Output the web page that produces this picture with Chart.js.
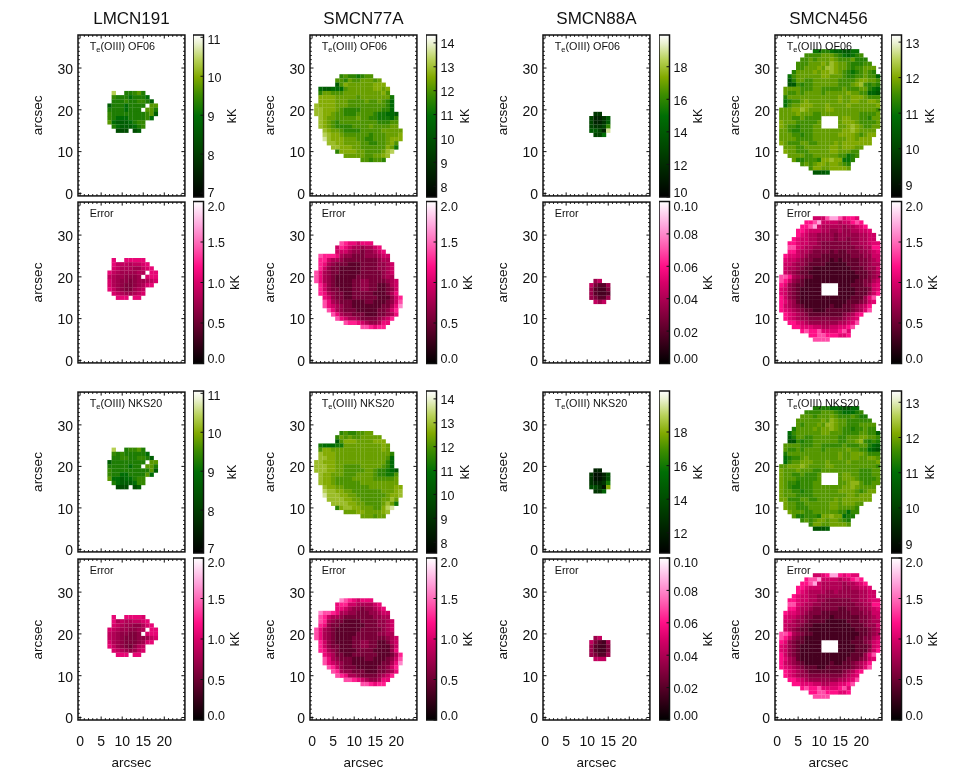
<!DOCTYPE html>
<html>
<head>
<meta charset="utf-8">
<title>Te(OIII) maps</title>
<script src="https://cdn.jsdelivr.net/npm/chart.js@4"></script>
<style>
  body { margin: 0; background: #fff; }
  #page { position: relative; width: 969px; height: 775px; overflow: hidden; }
  canvas { position: absolute; }
</style>
</head>
<body>
<div id="page"></div>
<script>
// axis labels
const xTicks = ["0", "5", "10", "15", "20"];
const yTicks = ["0", "10", "20", "30"];
const objects = ["LMCN191", "SMCN77A", "SMCN88A", "SMCN456"];
const captions = ["OF06", "Error", "NKS20", "Error"];

// colour bar tick labels
const lmcBarTicks = ["7", "8", "9", "10", "11"];
const n77BarTicks = ["8", "9", "10", "11", "12", "13", "14"];
const n88BarTicks = ["10", "12", "14", "16", "18"];
const n88BarTicksNks = ["12", "14", "16", "18"];
const n456BarTicks = ["9", "10", "11", "12", "13"];
const errBarTicks = ["0.0", "0.5", "1.0", "1.5", "2.0"];
const n88ErrBarTicks = ["0.00", "0.02", "0.04", "0.06", "0.08", "0.10"];

// colour bar ranges in kK
const lmcRange = [6.9, 11.06];
const n77Range = [7.55, 14.33];
const n88Range = [10, 19.95];
const n88RangeNks = [10.8, 20.44];
const n456Range = [8.64, 13.2];
const n456RangeNks = [8.72, 13.32];
const errRange = [0, 2];
const n88ErrRange = [0, 0.1];

// what each digit in a map row stands for, in kK
const lmcLevels = [8.3, 8.65, 8.95, 9.25, 9.45, 9.7, 9.95, 10.15, 10.4, 10.7];
const lmcErrLevels = [0.5, 0.58, 0.66, 0.74, 0.82, 0.9, 1.0, 1.08, 1.15, 1.25];
const n77Levels = [10.3, 10.8, 11.2, 11.6, 12.0, 12.3, 12.6, 12.9, 13.3, 13.7];
const n88Levels = [10.5, 11.5, 12.3, 13, 14, 15, 16, 17, 18, 19];
const n88ErrLevels = [0.012, 0.016, 0.02, 0.028, 0.036, 0.045, 0.055, 0.065, 0.075, 0.09];
const n456Levels = [10, 10.4, 10.7, 11, 11.3, 11.55, 11.8, 12.0, 12.25, 12.6];
const n77ErrLevels = [0.42, 0.55, 0.68, 0.8, 0.95, 1.1, 1.25, 1.4, 1.6, 1.85];
const n456ErrLevels = [0.32, 0.45, 0.58, 0.7, 0.82, 0.95, 1.05, 1.2, 1.4, 1.7];

// y of the first row of each object's map
const lmcTop = 24, n77Top = 28, n88Top = 19, n456Top = 34;

// maps, one string per row, one character per arcsec, "." is no data
const lmcOf06 = [
  "........8..33453",
  "........433323332",
  "........3334334431",
  ".......133323333.55",
  ".......33332333.553",
  ".......433333333451",
  ".......43222333342",
  ".......521112344",
  "........32111234",
  ".........000.01"
];
const lmcOf06Err = [
  "........7..77777",
  "........755545567",
  "........6544433567",
  ".......754333344.77",
  ".......54332223.677",
  ".......643221233456",
  ".......64321123467",
  ".......753211345",
  "........65433456",
  ".........777.77"
];
const lmcNks = [
  "........8..34453",
  "........434333332",
  "........3344334431",
  ".......133333333.55",
  ".......33333233.553",
  ".......433333333351",
  ".......43322333352",
  ".......522122344",
  "........32111244",
  ".........000.01"
];
const lmcNksErr = [
  "........7..77776",
  "........745445567",
  "........6543322467",
  ".......654332234.77",
  ".......54322112.677",
  ".......543211122356",
  ".......64321112367",
  ".......753210245",
  "........65432356",
  ".........777.77"
];

const n77Of06 = [
  ".......34332344",
  "......44354455545",
  "......046555555666",
  "..10011145555556656",
  "..35544455555555564",
  "..666655555455555552",
  "..666655544445445431",
  ".7666655544444444431",
  ".7766654333344444331",
  ".77665443334444322110",
  "..7655444445443322213",
  "..7654344444444433344",
  "..7654333344445444455",
  "...7655433334444455555",
  "...8766544444434445556",
  "...9766655544334445666",
  "....77665555443344564",
  ".....7766655444444652",
  "......36666554444578",
  "........55555445567",
  "............443443"
];
const n77Of06Err = [
  ".......76554555",
  "......46543323345",
  "......444322122345",
  "..76665322111222344",
  "..66433211111111233",
  "..653211100011112234",
  "..642110000011112234",
  ".7532110000011111234",
  ".7532100000111111233",
  ".75321000011221111234",
  "..6421000011221100134",
  "..6421100011221100124",
  "..6532110011111000135",
  "...5421100111111000246",
  "...7532111000110001247",
  "...7543211000000011358",
  "....75321110000011246",
  ".....7532211100011235",
  "......75433211112346",
  "........76654322355",
  "............776566"
];
const n77Nks = [
  ".......34334455",
  "......35454455555",
  "......046665555666",
  "..21112255555555565",
  "..46655555555555565",
  "..766655555555555553",
  "..776655555555555541",
  ".7766655555555555531",
  ".7776655444455555431",
  ".77766554444455433210",
  "..7665554445555433224",
  "..7665444455555444445",
  "..7665444444555555555",
  "...7665544444455555566",
  "...8776655444444455567",
  "...9777665544444445667",
  "....77776655444445575",
  ".....7777665544445752",
  "......36776655544689",
  "........55566555567",
  "............555455"
];
const n77NksErr = [
  ".......87654555",
  "......56644333345",
  "......554322122345",
  "..87765332211122344",
  "..76433211111112233",
  "..763211000011112234",
  "..652110000001112234",
  ".7532100000011111234",
  ".7532100000111112233",
  ".75321000011111111234",
  "..6421000011221100134",
  "..6421100011221100024",
  "..6532100001111000025",
  "...5431100111111000136",
  "...7532111000110001247",
  "...7543211000000011358",
  "....76421110000011246",
  ".....7632211100011235",
  "......76533211112346",
  "........77654322355",
  "............776566"
];

const n88Of06 = [
  "............22",
  "...........31124",
  "...........31124",
  "...........32236",
  "...........44319",
  "............335"
];
const n88Of06Err = [
  "............45",
  "...........53224",
  "...........42113",
  "...........42112",
  "...........43224",
  "............545"
];
const n88Nks = [
  "............22",
  "...........31124",
  "...........31124",
  "...........32236",
  "...........44318",
  "............335"
];
const n88NksErr = [
  "............45",
  "...........53214",
  "...........42113",
  "...........42113",
  "...........43224",
  "............555"
];

const n456Of06 = [
  ".........33443221133",
  ".......55556665432345",
  "......5565666765556444",
  ".....555666768766544455",
  ".....5566676887665455666",
  "....46666767787654345654",
  "...3566666677666544556552",
  "...1466556666665555677665",
  "...1154556666665556785454",
  "..66665556655555655566432",
  "..65565666656666676655221",
  "..46666666666667667776555",
  "..34556766666667667766776",
  "..35667776667666676666667",
  ".666778766667766666666665",
  ".666676665566666666655556",
  ".6665565555....6776655466",
  ".7666555556....6777655556",
  ".7655455566....6678765566",
  ".66544555666666677876666",
  ".66655455666666777765677",
  ".6666555566666666776777",
  ".7655566556666767777777",
  "..6665566666677677766",
  "..766555666667766655",
  "...66665566666655345",
  "....644555477877334",
  "......565677677654",
  "........5776677776",
  ".........1112"
];
const n456Of06Err = [
  ".........55589986776",
  ".......77895555455787",
  "......7789544444344567",
  ".....776555443343344556",
  ".....7654433332333334455",
  "....76554433332332334455",
  "...7765544322222223344566",
  "...8865443322222222334477",
  "...7754432222121122233456",
  "..76654322211111112223355",
  "..65543221111010111122345",
  "..55433211110000011122344",
  "..54432110000000001112335",
  "..54321100000000000111234",
  ".887432110000000000011234",
  ".875321000000000000112245",
  ".7632110000....0001112356",
  ".6532100000....0000111256",
  ".6532100000....0000111357",
  ".75321000000000000111368",
  ".76431000000000001112356",
  ".7543210000001001123457",
  ".7654321100011111123468",
  "..7654321111111123467",
  "..765433222222223456",
  "...77654333333344568",
  "....776665544556678",
  "......787786666786",
  "........7788777667",
  ".........8888"
];
const n456Nks = [
  ".........44443321133",
  ".......55556665433345",
  "......6665666765556544",
  ".....666666768766555555",
  ".....6566676887665556666",
  "....46666767787655455655",
  "...3566666677666555566552",
  "...2466556666665566677665",
  "...1154556666665566785454",
  "..66665556655555655566432",
  "..65565666656666676655321",
  "..46666666666667667776555",
  "..34556766666667667766776",
  "..35667776667666676666667",
  ".667778766667766666666665",
  ".766676665566666666655566",
  ".7665565556....6776655566",
  ".7666555556....6777655556",
  ".7655455566....6678865566",
  ".76544555666666677876666",
  ".76655455666666777765677",
  ".7666555566666666776777",
  ".7755566556666767777777",
  "..7665566666677677766",
  "..766555666667766665",
  "...76665566666655355",
  "....644555477877344",
  "......565677677654",
  "........5776677776",
  ".........1112"
];
const n456NksErr = [
  ".........55679976766",
  ".......78895555455787",
  "......7789544444344567",
  ".....776555444443344556",
  ".....7654444334333334455",
  "....76554433333333334455",
  "...7765544332222223344566",
  "...8865443322222222334477",
  "...7754432222221122233456",
  "..76654322211111112223355",
  "..65543221111011111122345",
  "..55433211110000011122344",
  "..54432110000000001112335",
  "..54321100000000000111234",
  ".887432110000000000011234",
  ".875321000000000000112245",
  ".7632110000....0001112356",
  ".6532100000....0000111256",
  ".6532100000....0000111357",
  ".75321000000000000111368",
  ".76431000000000001112356",
  ".7543210000001001123457",
  ".7654321110011111123468",
  "..7654321111111123467",
  "..765433222222223456",
  "...77654333333344568",
  "....776665544556678",
  "......787786666786",
  "........7788777667",
  ".........8888"
];

// colour tables, position then rgb
const greens = [[0, 0, 0, 0], [0.3, 0, 70, 0], [0.5, 0, 110, 5], [0.63, 60, 140, 0], [0.74, 130, 170, 0], [0.85, 185, 210, 90], [0.95, 235, 242, 210], [1, 255, 255, 255]];
const pinks = [[0, 0, 0, 0], [0.25, 110, 0, 50], [0.5, 215, 0, 105], [0.6, 255, 15, 135], [0.72, 255, 90, 175], [0.85, 255, 165, 220], [0.95, 255, 225, 245], [1, 255, 255, 255]];

const FONT = "'Liberation Sans', Arial, sans-serif";
const INK = "#111";
const PANEL_W = 107.5, PANEL_H = 162, BAR_W = 10.5, AXIS_W = 50;
const colLeft = [78, 310, 543, 775];
const barLeft = [193, 426, 659, 891];
const rowTop = [35, 201.5, 391, 558];
const page = document.getElementById("page");

Chart.defaults.font.family = FONT;
Chart.defaults.color = INK;
Chart.defaults.animation = false;

function colorAt(table, f) {
  f = Math.min(1, Math.max(0, f));
  for (let i = 1; i < table.length; i++) {
    if (f <= table[i][0]) {
      const a = table[i - 1], b = table[i], t = (f - a[0]) / (b[0] - a[0]);
      const mix = k => Math.round(a[k] + (b[k] - a[k]) * t);
      return `rgb(${mix(1)},${mix(2)},${mix(3)})`;
    }
  }
  return "#fff";
}

function addCanvas(left, top, w, h) {
  const c = document.createElement("canvas");
  c.width = w;
  c.height = h;
  c.style.left = left + "px";
  c.style.top = top + "px";
  page.appendChild(c);
  return c;
}

function mapPoints(rows, top, levels) {
  const pts = [];
  rows.forEach((row, k) => {
    [...row].forEach((ch, i) => {
      if (ch !== ".") pts.push({ x: i, y: top - k, v: levels[+ch] });
    });
  });
  return pts;
}

function strokeFrame(ctx, a) {
  ctx.strokeStyle = INK;
  ctx.lineWidth = 1.5;
  ctx.strokeRect(a.left, a.top, a.right - a.left, a.bottom - a.top);
}

function drawCaption(ctx, a, name) {
  const y = a.top + 12;
  let x = a.left + 11.7;
  ctx.fillStyle = INK;
  ctx.textBaseline = "middle";
  ctx.textAlign = "left";
  ctx.font = "10.8px " + FONT;
  if (name === "Error") {
    ctx.fillText(name, x, y);
    return;
  }
  ctx.fillText("T", x, y);
  x += ctx.measureText("T").width;
  ctx.font = "7.5px " + FONT;
  ctx.fillText("e", x, y + 2.5);
  x += ctx.measureText("e").width;
  ctx.font = "10.8px " + FONT;
  ctx.fillText("(OIII) " + name, x, y);
}

// frame, inward ticks on all four sides, caption and object name
function panelPlugin(name, heading) {
  return {
    id: "panelFrame",
    afterDatasetsDraw(chart) {
      const { ctx, chartArea: a, scales: { x, y } } = chart;
      ctx.save();
      strokeFrame(ctx, a);
      ctx.lineWidth = 1;
      ctx.beginPath();
      for (let v = 0; v <= 24; v++) {
        const p = x.getPixelForValue(v), len = xTicks.includes(String(v)) ? 3.5 : 1.8;
        ctx.moveTo(p, a.bottom); ctx.lineTo(p, a.bottom - len);
        ctx.moveTo(p, a.top); ctx.lineTo(p, a.top + len);
      }
      for (let v = 0; v <= 37; v++) {
        const p = y.getPixelForValue(v), len = yTicks.includes(String(v)) ? 3.5 : 1.8;
        ctx.moveTo(a.left, p); ctx.lineTo(a.left + len, p);
        ctx.moveTo(a.right, p); ctx.lineTo(a.right - len, p);
      }
      ctx.stroke();
      drawCaption(ctx, a, name);
      if (heading) {
        ctx.font = "17px " + FONT;
        ctx.textAlign = "center";
        ctx.fillText(heading, (a.left + a.right) / 2, 19);
      }
      ctx.restore();
    }
  };
}

function heatPanel(col, row, rows, top, levels, range, table) {
  const frameTop = rowTop[row];
  const padTop = row === 0 ? frameTop : 2;
  const canvasTop = Math.floor(frameTop - padTop);
  const bottomH = row === 3 ? 51 : 0;
  const canvas = addCanvas(colLeft[col] - AXIS_W, canvasTop, AXIS_W + 110, Math.ceil(frameTop - canvasTop + PANEL_H + bottomH + 2));
  const heading = row === 0 ? objects[col] : null;
  new Chart(canvas, {
    type: "scatter",
    data: {
      datasets: [{
        data: mapPoints(rows, top, levels),
        pointStyle: "rect",
        pointRadius: 3.08,
        pointHoverRadius: 3.08,
        pointBorderWidth: 0,
        pointBackgroundColor: c => c.raw ? colorAt(table, (c.raw.v - range[0]) / (range[1] - range[0])) : "#000"
      }]
    },
    options: {
      responsive: false,
      layout: { padding: { left: 0, top: frameTop - canvasTop, right: 110 - PANEL_W, bottom: canvas.height - (frameTop - canvasTop) - PANEL_H - bottomH } },
      plugins: { legend: { display: false }, tooltip: { enabled: false } },
      scales: {
        x: {
          type: "linear",
          display: row === 3,
          min: -0.5,
          max: 24.9,
          grid: { display: false, drawTicks: false },
          border: { display: false },
          afterBuildTicks(s) { s.ticks = xTicks.map(t => ({ value: +t })); },
          afterFit(s) { s.height = bottomH; s.paddingLeft = 0; s.paddingRight = 0; },
          ticks: { autoSkip: false, maxRotation: 0, padding: 14, font: { size: 14 }, color: INK },
          title: { display: true, text: "arcsec", font: { size: 13.5 }, color: INK, padding: 0 }
        },
        y: {
          type: "linear",
          min: -0.6,
          max: 37.9,
          grid: { display: false, drawTicks: false },
          border: { display: false },
          afterBuildTicks(s) { s.ticks = yTicks.map(t => ({ value: +t })); },
          afterFit(s) { s.width = AXIS_W; s.paddingTop = 0; s.paddingBottom = 0; },
          ticks: { autoSkip: false, padding: 5, labelOffset: 2, font: { size: 14 }, color: INK },
          title: { display: true, text: "arcsec", font: { size: 13.5 }, color: INK, padding: { top: 2, bottom: 0 } }
        }
      }
    },
    plugins: [panelPlugin(captions[row], heading)]
  });
}

function colorBar(col, row, labels, range, table) {
  const frameTop = rowTop[row];
  const canvasTop = Math.floor(frameTop - 2);
  const labelGap = labels === n88ErrBarTicks ? 39 : labels === errBarTicks ? 32 : 29;
  const axisW = labelGap + 8;
  const canvasW = Math.ceil(BAR_W + axisW);
  const canvas = addCanvas(barLeft[col], canvasTop, canvasW, Math.ceil(frameTop - canvasTop + PANEL_H + 2));
  const [lo, hi] = range;
  const unit = (hi - lo) / PANEL_H;
  new Chart(canvas, {
    type: "bar",
    data: {
      labels: ["kK"],
      datasets: [{
        data: [[lo, hi]],
        barPercentage: 1,
        categoryPercentage: 1,
        borderWidth: 0,
        borderSkipped: false,
        backgroundColor(c) {
          const a = c.chart.chartArea;
          if (!a) return "#000";
          const g = c.chart.ctx.createLinearGradient(0, a.bottom, 0, a.top);
          table.forEach(s => g.addColorStop(s[0], `rgb(${s[1]},${s[2]},${s[3]})`));
          return g;
        }
      }]
    },
    options: {
      responsive: false,
      layout: { padding: { left: 0, top: frameTop - canvasTop, right: canvasW - BAR_W - axisW, bottom: canvas.height - (frameTop - canvasTop) - PANEL_H } },
      plugins: { legend: { display: false }, tooltip: { enabled: false } },
      scales: {
        x: { display: false },
        y: {
          position: "right",
          min: lo,
          max: hi,
          grid: { display: false, drawTicks: false },
          border: { display: false },
          // the end labels are kept inside the bar, their marks stay at the true value
          afterBuildTicks(s) {
            s.ticks = labels.map(t => ({
              value: Math.min(hi - 4 * unit, Math.max(lo + 5.5 * unit, +t)),
              mark: +t,
              text: t
            }));
          },
          afterFit(s) { s.width = axisW; s.paddingTop = 0; s.paddingBottom = 0; },
          ticks: { autoSkip: false, padding: 4, labelOffset: 2, font: { size: 12.5 }, color: INK, callback: (v, i, t) => t[i].text }
        }
      }
    },
    plugins: [{
      id: "barFrame",
      afterDatasetsDraw(chart) {
        const { ctx, chartArea: a, scales: { y } } = chart;
        ctx.save();
        strokeFrame(ctx, a);
        ctx.lineWidth = 1;
        ctx.beginPath();
        y.ticks.forEach(t => {
          const p = y.getPixelForValue(t.mark);
          ctx.moveTo(a.right, p);
          ctx.lineTo(a.right - 3, p);
        });
        ctx.stroke();
        ctx.translate(a.right + labelGap, (a.top + a.bottom) / 2);
        ctx.rotate(-Math.PI / 2);
        ctx.fillStyle = INK;
        ctx.font = "12.5px " + FONT;
        ctx.textAlign = "center";
        ctx.textBaseline = "middle";
        ctx.fillText("kK", 0, 0);
        ctx.restore();
      }
    }]
  });
}

// LMCN191
heatPanel(0, 0, lmcOf06, lmcTop, lmcLevels, lmcRange, greens);
colorBar(0, 0, lmcBarTicks, lmcRange, greens);
heatPanel(0, 1, lmcOf06Err, lmcTop, lmcErrLevels, errRange, pinks);
colorBar(0, 1, errBarTicks, errRange, pinks);
heatPanel(0, 2, lmcNks, lmcTop, lmcLevels, lmcRange, greens);
colorBar(0, 2, lmcBarTicks, lmcRange, greens);
heatPanel(0, 3, lmcNksErr, lmcTop, lmcErrLevels, errRange, pinks);
colorBar(0, 3, errBarTicks, errRange, pinks);

// SMCN77A
heatPanel(1, 0, n77Of06, n77Top, n77Levels, n77Range, greens);
colorBar(1, 0, n77BarTicks, n77Range, greens);
heatPanel(1, 1, n77Of06Err, n77Top, n77ErrLevels, errRange, pinks);
colorBar(1, 1, errBarTicks, errRange, pinks);
heatPanel(1, 2, n77Nks, n77Top, n77Levels, n77Range, greens);
colorBar(1, 2, n77BarTicks, n77Range, greens);
heatPanel(1, 3, n77NksErr, n77Top, n77ErrLevels, errRange, pinks);
colorBar(1, 3, errBarTicks, errRange, pinks);

// SMCN88A
heatPanel(2, 0, n88Of06, n88Top, n88Levels, n88Range, greens);
colorBar(2, 0, n88BarTicks, n88Range, greens);
heatPanel(2, 1, n88Of06Err, n88Top, n88ErrLevels, n88ErrRange, pinks);
colorBar(2, 1, n88ErrBarTicks, n88ErrRange, pinks);
heatPanel(2, 2, n88Nks, n88Top, n88Levels, n88RangeNks, greens);
colorBar(2, 2, n88BarTicksNks, n88RangeNks, greens);
heatPanel(2, 3, n88NksErr, n88Top, n88ErrLevels, n88ErrRange, pinks);
colorBar(2, 3, n88ErrBarTicks, n88ErrRange, pinks);

// SMCN456
heatPanel(3, 0, n456Of06, n456Top, n456Levels, n456Range, greens);
colorBar(3, 0, n456BarTicks, n456Range, greens);
heatPanel(3, 1, n456Of06Err, n456Top, n456ErrLevels, errRange, pinks);
colorBar(3, 1, errBarTicks, errRange, pinks);
heatPanel(3, 2, n456Nks, n456Top, n456Levels, n456RangeNks, greens);
colorBar(3, 2, n456BarTicks, n456RangeNks, greens);
heatPanel(3, 3, n456NksErr, n456Top, n456ErrLevels, errRange, pinks);
colorBar(3, 3, errBarTicks, errRange, pinks);
</script>
</body>
</html>
